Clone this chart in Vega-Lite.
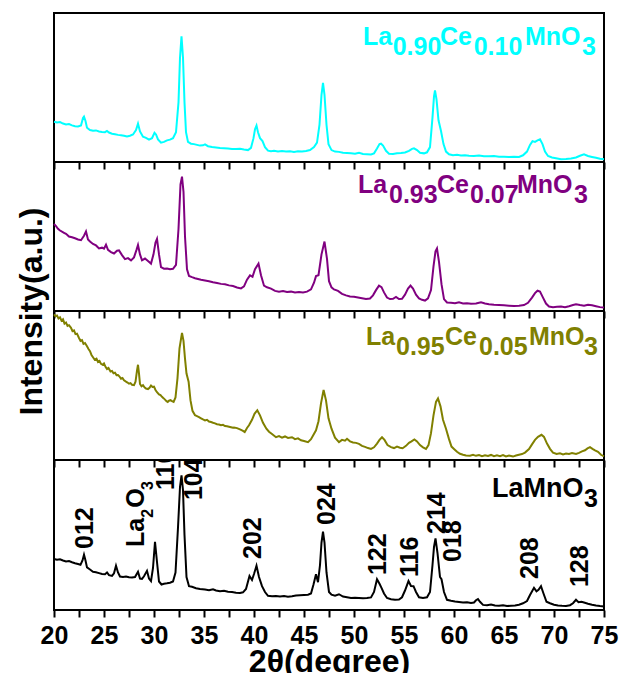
{
"$schema": "https://vega.github.io/schema/vega-lite/v6.json",
"background": "white",
"padding": {"left": 14, "top": 12, "right": 0, "bottom": 0},
"spacing": 0,
"bounds": "flush",
"config": {
  "font": "Liberation Sans",
  "view": {"stroke": "black", "strokeWidth": 2},
  "axis": {"tickColor": "black", "domainColor": "black", "labelColor": "black", "titleColor": "black", "grid": false, "labelFont": "Liberation Sans", "titleFont": "Liberation Sans"}
},
"datasets": {
"p1": [{"x":20.0,"y":27.0},{"x":20.3,"y":26.5},{"x":20.6,"y":26.8},{"x":20.9,"y":25.8},{"x":21.2,"y":25.2},{"x":21.5,"y":25.5},{"x":21.8,"y":24.6},{"x":22.1,"y":24.0},{"x":22.4,"y":23.8},{"x":22.7,"y":24.5},{"x":22.9,"y":29.5},{"x":23.0,"y":30.4},{"x":23.15,"y":27.5},{"x":23.3,"y":23.0},{"x":23.6,"y":21.5},{"x":23.9,"y":21.0},{"x":24.2,"y":21.2},{"x":24.5,"y":20.5},{"x":24.8,"y":20.2},{"x":25.1,"y":20.0},{"x":25.3,"y":20.8},{"x":25.5,"y":19.8},{"x":25.8,"y":19.0},{"x":26.1,"y":18.6},{"x":26.4,"y":18.2},{"x":26.7,"y":18.0},{"x":27.0,"y":17.6},{"x":27.3,"y":17.2},{"x":27.6,"y":17.6},{"x":27.9,"y":18.5},{"x":28.2,"y":21.5},{"x":28.4,"y":25.7},{"x":28.6,"y":20.5},{"x":28.9,"y":17.0},{"x":29.2,"y":16.2},{"x":29.5,"y":15.0},{"x":29.8,"y":16.0},{"x":30.05,"y":19.6},{"x":30.2,"y":18.5},{"x":30.4,"y":15.2},{"x":30.7,"y":13.0},{"x":31.0,"y":13.5},{"x":31.3,"y":14.5},{"x":31.6,"y":15.0},{"x":31.9,"y":16.0},{"x":32.2,"y":20.0},{"x":32.45,"y":40},{"x":32.6,"y":70},{"x":32.75,"y":84.4},{"x":32.9,"y":70},{"x":33.05,"y":40},{"x":33.2,"y":20},{"x":33.4,"y":13.5},{"x":33.7,"y":12.3},{"x":34.0,"y":12.0},{"x":34.3,"y":11.5},{"x":34.6,"y":11.0},{"x":34.9,"y":11.2},{"x":35.1,"y":11.8},{"x":35.4,"y":10.6},{"x":35.8,"y":10.0},{"x":36.2,"y":9.8},{"x":36.6,"y":9.4},{"x":37.0,"y":9.2},{"x":37.4,"y":9.0},{"x":37.8,"y":8.8},{"x":38.2,"y":8.8},{"x":38.6,"y":8.9},{"x":39.0,"y":8.4},{"x":39.4,"y":8.0},{"x":39.7,"y":9.5},{"x":39.95,"y":16},{"x":40.1,"y":22},{"x":40.25,"y":24.5},{"x":40.4,"y":20},{"x":40.6,"y":16},{"x":40.85,"y":14},{"x":41.1,"y":10},{"x":41.4,"y":7.6},{"x":41.7,"y":7.2},{"x":42.0,"y":7.5},{"x":42.4,"y":7.0},{"x":42.8,"y":7.3},{"x":43.2,"y":7.0},{"x":43.6,"y":7.2},{"x":44.0,"y":6.8},{"x":44.4,"y":7.2},{"x":44.8,"y":7.0},{"x":45.2,"y":7.4},{"x":45.6,"y":8.0},{"x":46.0,"y":10.0},{"x":46.3,"y":13.0},{"x":46.55,"y":25},{"x":46.75,"y":45},{"x":46.9,"y":53.1},{"x":47.05,"y":45},{"x":47.25,"y":25},{"x":47.45,"y":12},{"x":47.75,"y":8.0},{"x":48.1,"y":7.0},{"x":48.5,"y":6.8},{"x":48.9,"y":6.2},{"x":49.3,"y":6.0},{"x":49.7,"y":5.8},{"x":50.1,"y":5.6},{"x":50.5,"y":6.2},{"x":50.9,"y":5.4},{"x":51.3,"y":5.2},{"x":51.7,"y":5.0},{"x":52.0,"y":5.8},{"x":52.3,"y":9.0},{"x":52.55,"y":12.0},{"x":52.7,"y":12.3},{"x":52.9,"y":11.0},{"x":53.2,"y":7.5},{"x":53.5,"y":5.6},{"x":53.9,"y":5.4},{"x":54.3,"y":5.8},{"x":54.7,"y":6.0},{"x":55.1,"y":6.4},{"x":55.5,"y":7.5},{"x":55.8,"y":8.8},{"x":56.0,"y":9.2},{"x":56.3,"y":8.0},{"x":56.6,"y":6.2},{"x":57.0,"y":5.8},{"x":57.3,"y":6.5},{"x":57.6,"y":10},{"x":57.85,"y":30},{"x":58.0,"y":44},{"x":58.1,"y":48},{"x":58.25,"y":42},{"x":58.45,"y":28},{"x":58.7,"y":20.8},{"x":58.95,"y":12},{"x":59.2,"y":7},{"x":59.5,"y":5.2},{"x":59.9,"y":4.6},{"x":60.3,"y":4.8},{"x":60.7,"y":4.4},{"x":61.1,"y":4.5},{"x":61.5,"y":4.2},{"x":62.0,"y":4.0},{"x":62.5,"y":4.3},{"x":63.0,"y":3.9},{"x":63.5,"y":3.8},{"x":64.0,"y":4.0},{"x":64.5,"y":3.6},{"x":65.0,"y":3.5},{"x":65.5,"y":3.3},{"x":66.0,"y":3.6},{"x":66.5,"y":3.4},{"x":66.9,"y":4.5},{"x":67.3,"y":7.0},{"x":67.6,"y":11.5},{"x":67.85,"y":14},{"x":68.1,"y":13.5},{"x":68.35,"y":14.5},{"x":68.6,"y":15.2},{"x":68.85,"y":12},{"x":69.1,"y":7},{"x":69.4,"y":4.0},{"x":69.8,"y":3.0},{"x":70.2,"y":2.5},{"x":70.7,"y":1.8},{"x":71.2,"y":2.0},{"x":71.7,"y":2.4},{"x":72.2,"y":3.0},{"x":72.6,"y":4.2},{"x":73.0,"y":5.1},{"x":73.4,"y":4.0},{"x":73.8,"y":3.4},{"x":74.2,"y":2.8},{"x":74.6,"y":2.2},{"x":75.0,"y":1.8}],
"p2": [{"x":20.0,"y":58.4},{"x":20.2,"y":57.0},{"x":20.4,"y":55.2},{"x":20.6,"y":54.0},{"x":20.8,"y":53.2},{"x":21.0,"y":52.5},{"x":21.2,"y":51.8},{"x":21.5,"y":50.0},{"x":21.8,"y":49.5},{"x":22.1,"y":48.8},{"x":22.4,"y":48.0},{"x":22.7,"y":47.5},{"x":23.0,"y":50.5},{"x":23.2,"y":53.4},{"x":23.4,"y":48.0},{"x":23.6,"y":46.6},{"x":23.9,"y":45.0},{"x":24.2,"y":44.0},{"x":24.5,"y":42.0},{"x":24.8,"y":42.5},{"x":25.0,"y":41.8},{"x":25.2,"y":44.5},{"x":25.4,"y":41.0},{"x":25.7,"y":39.5},{"x":26.0,"y":38.6},{"x":26.3,"y":40.5},{"x":26.5,"y":40.7},{"x":26.8,"y":37.5},{"x":27.1,"y":34.8},{"x":27.4,"y":35.5},{"x":27.7,"y":34.0},{"x":28.0,"y":36.0},{"x":28.25,"y":41.0},{"x":28.4,"y":44.3},{"x":28.6,"y":38.0},{"x":28.8,"y":34.0},{"x":29.1,"y":35.2},{"x":29.4,"y":33.5},{"x":29.7,"y":31.8},{"x":29.95,"y":38},{"x":30.15,"y":46},{"x":30.3,"y":48.4},{"x":30.5,"y":38},{"x":30.7,"y":29.5},{"x":31.0,"y":28.4},{"x":31.3,"y":28.5},{"x":31.6,"y":28.0},{"x":31.9,"y":28.3},{"x":32.2,"y":31},{"x":32.45,"y":55},{"x":32.65,"y":85},{"x":32.8,"y":90.2},{"x":32.95,"y":80},{"x":33.1,"y":50},{"x":33.3,"y":28},{"x":33.5,"y":23.5},{"x":33.8,"y":22.7},{"x":34.1,"y":22.0},{"x":34.4,"y":21.5},{"x":34.7,"y":21.0},{"x":35.1,"y":20.5},{"x":35.5,"y":20.0},{"x":35.9,"y":19.3},{"x":36.3,"y":18.8},{"x":36.7,"y":18.2},{"x":37.1,"y":18.0},{"x":37.5,"y":17.2},{"x":37.9,"y":16.8},{"x":38.3,"y":15.8},{"x":38.7,"y":15.2},{"x":39.0,"y":16.5},{"x":39.3,"y":21},{"x":39.6,"y":23.9},{"x":39.85,"y":23},{"x":40.1,"y":28},{"x":40.45,"y":31.8},{"x":40.7,"y":24},{"x":41.0,"y":17},{"x":41.3,"y":15.9},{"x":41.7,"y":15.0},{"x":42.1,"y":13.5},{"x":42.5,"y":13.0},{"x":42.9,"y":13.4},{"x":43.3,"y":12.8},{"x":43.7,"y":13.0},{"x":44.1,"y":12.5},{"x":44.5,"y":12.8},{"x":44.9,"y":12.5},{"x":45.3,"y":13.0},{"x":45.7,"y":14.5},{"x":46.0,"y":19},{"x":46.2,"y":23.4},{"x":46.45,"y":24},{"x":46.75,"y":38},{"x":47.05,"y":46.6},{"x":47.3,"y":35},{"x":47.5,"y":20},{"x":47.75,"y":15.9},{"x":48.0,"y":14.5},{"x":48.4,"y":13.5},{"x":48.8,"y":11.5},{"x":49.2,"y":10.5},{"x":49.6,"y":9.8},{"x":50.0,"y":9.5},{"x":50.4,"y":9.0},{"x":50.8,"y":8.5},{"x":51.2,"y":8.0},{"x":51.6,"y":8.4},{"x":51.9,"y":10.5},{"x":52.2,"y":14},{"x":52.5,"y":17.0},{"x":52.75,"y":16},{"x":53.0,"y":12.5},{"x":53.3,"y":9},{"x":53.6,"y":8.0},{"x":53.9,"y":8.2},{"x":54.2,"y":9.5},{"x":54.5,"y":8.0},{"x":54.8,"y":8.2},{"x":55.1,"y":11},{"x":55.4,"y":15},{"x":55.65,"y":17.0},{"x":55.9,"y":15},{"x":56.2,"y":11},{"x":56.5,"y":8.5},{"x":56.8,"y":7.5},{"x":57.1,"y":7.0},{"x":57.4,"y":8.5},{"x":57.7,"y":14},{"x":57.95,"y":30},{"x":58.15,"y":40},{"x":58.3,"y":42},{"x":58.5,"y":33},{"x":58.75,"y":18},{"x":59.0,"y":8},{"x":59.3,"y":5.7},{"x":59.7,"y":5.5},{"x":60.1,"y":5.2},{"x":60.5,"y":5.8},{"x":60.9,"y":5.0},{"x":61.3,"y":5.2},{"x":61.7,"y":4.8},{"x":62.2,"y":5.0},{"x":62.7,"y":5.8},{"x":63.1,"y":5.0},{"x":63.5,"y":4.5},{"x":64.0,"y":4.2},{"x":64.5,"y":4.0},{"x":65.0,"y":3.8},{"x":65.5,"y":3.6},{"x":66.0,"y":3.4},{"x":66.5,"y":3.6},{"x":67.0,"y":4.0},{"x":67.4,"y":5.5},{"x":67.8,"y":9.0},{"x":68.1,"y":12},{"x":68.35,"y":13.6},{"x":68.6,"y":13.0},{"x":68.9,"y":9.0},{"x":69.2,"y":5.0},{"x":69.5,"y":3.0},{"x":69.9,"y":2.6},{"x":70.3,"y":2.8},{"x":70.7,"y":3.0},{"x":71.1,"y":2.6},{"x":71.5,"y":3.2},{"x":71.9,"y":4.0},{"x":72.2,"y":4.5},{"x":72.6,"y":4.0},{"x":73.0,"y":3.6},{"x":73.4,"y":4.2},{"x":73.8,"y":3.8},{"x":74.2,"y":3.2},{"x":74.6,"y":2.6},{"x":75.0,"y":2.3}],
"p3": [{"x":20.0,"y":97.7},{"x":20.15,"y":96.5},{"x":20.3,"y":97.0},{"x":20.45,"y":95.0},{"x":20.6,"y":95.8},{"x":20.75,"y":93.5},{"x":20.9,"y":94.4},{"x":21.05,"y":91.5},{"x":21.2,"y":92.3},{"x":21.35,"y":90.0},{"x":21.5,"y":90.5},{"x":21.7,"y":88.7},{"x":21.85,"y":86.5},{"x":22.0,"y":87.0},{"x":22.15,"y":84.5},{"x":22.3,"y":84.8},{"x":22.5,"y":81.9},{"x":22.65,"y":80.0},{"x":22.8,"y":80.5},{"x":22.95,"y":78.0},{"x":23.1,"y":78.5},{"x":23.3,"y":76.3},{"x":23.45,"y":74.5},{"x":23.6,"y":73.0},{"x":23.75,"y":70.5},{"x":23.9,"y":69.0},{"x":24.07,"y":67.3},{"x":24.25,"y":68.0},{"x":24.4,"y":65.8},{"x":24.55,"y":66.5},{"x":24.7,"y":64.5},{"x":24.86,"y":63.9},{"x":25.0,"y":64.8},{"x":25.15,"y":62.5},{"x":25.3,"y":61.0},{"x":25.45,"y":61.8},{"x":25.65,"y":59.4},{"x":25.8,"y":59.8},{"x":25.95,"y":58.2},{"x":26.1,"y":58.6},{"x":26.25,"y":57.0},{"x":26.4,"y":57.1},{"x":26.55,"y":56.0},{"x":26.7,"y":54.5},{"x":26.85,"y":55.0},{"x":27.0,"y":53.5},{"x":27.2,"y":52.6},{"x":27.35,"y":52.0},{"x":27.5,"y":51.2},{"x":27.65,"y":51.6},{"x":27.8,"y":50.5},{"x":28.0,"y":50.3},{"x":28.15,"y":52.5},{"x":28.3,"y":60},{"x":28.4,"y":63.9},{"x":28.5,"y":58},{"x":28.6,"y":51},{"x":28.75,"y":49.5},{"x":28.9,"y":50.2},{"x":29.05,"y":48.8},{"x":29.2,"y":48.0},{"x":29.4,"y":47.6},{"x":29.55,"y":48.5},{"x":29.7,"y":50.0},{"x":29.85,"y":49.0},{"x":30.0,"y":49.2},{"x":30.15,"y":47.0},{"x":30.3,"y":45.5},{"x":30.5,"y":44.0},{"x":30.65,"y":43.5},{"x":30.8,"y":42.4},{"x":30.95,"y":41.5},{"x":31.1,"y":40.5},{"x":31.25,"y":39.5},{"x":31.37,"y":39.0},{"x":31.5,"y":39.8},{"x":31.65,"y":40.2},{"x":31.8,"y":39.5},{"x":31.96,"y":39.0},{"x":32.15,"y":42},{"x":32.35,"y":55},{"x":32.55,"y":75},{"x":32.8,"y":85.3},{"x":32.95,"y":80},{"x":33.1,"y":68},{"x":33.25,"y":58},{"x":33.46,"y":52.6},{"x":33.65,"y":40},{"x":33.85,"y":33},{"x":34.1,"y":30},{"x":34.3,"y":29.5},{"x":34.5,"y":28.8},{"x":34.7,"y":28.0},{"x":34.9,"y":27.2},{"x":35.1,"y":26.6},{"x":35.3,"y":27.0},{"x":35.5,"y":25.8},{"x":35.7,"y":25.5},{"x":35.9,"y":25.0},{"x":36.1,"y":24.6},{"x":36.3,"y":24.0},{"x":36.5,"y":23.8},{"x":36.7,"y":23.3},{"x":36.9,"y":23.6},{"x":37.1,"y":22.8},{"x":37.3,"y":22.6},{"x":37.5,"y":22.3},{"x":37.7,"y":22.0},{"x":37.9,"y":21.6},{"x":38.0,"y":21.8},{"x":38.3,"y":21.4},{"x":38.6,"y":20.5},{"x":38.9,"y":19.5},{"x":39.07,"y":18.7},{"x":39.3,"y":21.5},{"x":39.5,"y":23.3},{"x":39.8,"y":27},{"x":40.05,"y":31},{"x":40.33,"y":33.4},{"x":40.6,"y":30},{"x":40.9,"y":25},{"x":41.24,"y":21},{"x":41.5,"y":19},{"x":41.8,"y":17.5},{"x":42.2,"y":15.3},{"x":42.5,"y":16.0},{"x":42.8,"y":15.0},{"x":43.1,"y":15.8},{"x":43.4,"y":14.8},{"x":43.8,"y":15.3},{"x":44.1,"y":14.0},{"x":44.4,"y":14.5},{"x":44.7,"y":13.2},{"x":45.0,"y":12.8},{"x":45.4,"y":12.0},{"x":45.7,"y":14.0},{"x":45.95,"y":17},{"x":46.2,"y":19.9},{"x":46.45,"y":26},{"x":46.7,"y":38},{"x":46.96,"y":47},{"x":47.2,"y":40},{"x":47.45,"y":28},{"x":47.75,"y":21},{"x":48.1,"y":15},{"x":48.5,"y":12},{"x":48.8,"y":13.5},{"x":49.1,"y":13.0},{"x":49.3,"y":14.2},{"x":49.6,"y":12.5},{"x":49.9,"y":11.8},{"x":50.2,"y":11.5},{"x":50.5,"y":10.8},{"x":50.8,"y":9.5},{"x":51.1,"y":8.8},{"x":51.4,"y":8.0},{"x":51.7,"y":7.4},{"x":52.0,"y":8.5},{"x":52.3,"y":11},{"x":52.55,"y":13.5},{"x":52.8,"y":15.3},{"x":53.05,"y":13.5},{"x":53.35,"y":10},{"x":53.7,"y":8.6},{"x":54.0,"y":8.0},{"x":54.3,"y":9.0},{"x":54.6,"y":8.2},{"x":54.86,"y":7.9},{"x":55.2,"y":9.5},{"x":55.5,"y":11.5},{"x":55.75,"y":12.5},{"x":56.04,"y":13.8},{"x":56.3,"y":12.5},{"x":56.6,"y":10},{"x":56.9,"y":8.5},{"x":57.2,"y":7.4},{"x":57.45,"y":10},{"x":57.7,"y":18},{"x":57.95,"y":30},{"x":58.2,"y":39},{"x":58.4,"y":41.3},{"x":58.65,"y":36},{"x":58.9,"y":27},{"x":59.2,"y":21},{"x":59.5,"y":14},{"x":59.75,"y":9},{"x":60.0,"y":7.4},{"x":60.3,"y":5.5},{"x":60.6,"y":4.2},{"x":60.9,"y":3.5},{"x":61.2,"y":3.0},{"x":61.6,"y":2.9},{"x":61.9,"y":3.5},{"x":62.2,"y":2.8},{"x":62.5,"y":3.3},{"x":62.8,"y":2.6},{"x":63.1,"y":3.2},{"x":63.4,"y":2.7},{"x":63.7,"y":3.4},{"x":64.0,"y":2.5},{"x":64.3,"y":3.1},{"x":64.6,"y":2.6},{"x":64.9,"y":3.3},{"x":65.2,"y":2.4},{"x":65.5,"y":3.0},{"x":65.9,"y":2.3},{"x":66.2,"y":3.0},{"x":66.5,"y":3.5},{"x":66.8,"y":4.0},{"x":67.1,"y":5.0},{"x":67.5,"y":7.4},{"x":67.8,"y":10.5},{"x":68.1,"y":13.5},{"x":68.4,"y":15.5},{"x":68.75,"y":16.9},{"x":69.0,"y":15.5},{"x":69.3,"y":11},{"x":69.6,"y":7.5},{"x":69.9,"y":5.0},{"x":70.26,"y":4.0},{"x":70.6,"y":4.5},{"x":70.9,"y":3.8},{"x":71.2,"y":4.4},{"x":71.5,"y":4.0},{"x":71.8,"y":4.6},{"x":72.2,"y":4.0},{"x":72.5,"y":4.8},{"x":72.8,"y":5.8},{"x":73.1,"y":6.5},{"x":73.35,"y":7.8},{"x":73.6,"y":8.6},{"x":73.85,"y":7.5},{"x":74.1,"y":6.5},{"x":74.4,"y":5.5},{"x":74.7,"y":3.5},{"x":75.0,"y":2.5}],
"p4": [{"x":20.0,"y":34.0},{"x":20.3,"y":33.5},{"x":20.6,"y":33.8},{"x":20.9,"y":33.0},{"x":21.2,"y":32.3},{"x":21.5,"y":32.6},{"x":21.8,"y":31.8},{"x":22.1,"y":31.2},{"x":22.4,"y":30.7},{"x":22.65,"y":30.2},{"x":22.85,"y":33},{"x":23.0,"y":36.8},{"x":23.15,"y":33},{"x":23.3,"y":28.4},{"x":23.6,"y":27.0},{"x":23.9,"y":25.5},{"x":24.2,"y":25.2},{"x":24.5,"y":24.6},{"x":24.8,"y":24.0},{"x":25.1,"y":23.9},{"x":25.3,"y":25.0},{"x":25.5,"y":23.2},{"x":25.8,"y":22.7},{"x":26.0,"y":24.5},{"x":26.2,"y":29.5},{"x":26.4,"y":25},{"x":26.6,"y":22.3},{"x":26.9,"y":22.0},{"x":27.2,"y":22.3},{"x":27.5,"y":21.8},{"x":27.8,"y":21.6},{"x":28.1,"y":22.0},{"x":28.4,"y":25.5},{"x":28.6,"y":21.0},{"x":28.8,"y":20.8},{"x":29.0,"y":22.5},{"x":29.3,"y":26.1},{"x":29.5,"y":21.0},{"x":29.7,"y":19.3},{"x":29.9,"y":28},{"x":30.1,"y":45.5},{"x":30.3,"y":32},{"x":30.5,"y":19},{"x":30.75,"y":17.0},{"x":31.0,"y":17.5},{"x":31.3,"y":17.8},{"x":31.6,"y":18.2},{"x":31.9,"y":19.0},{"x":32.15,"y":25},{"x":32.4,"y":55},{"x":32.6,"y":82},{"x":32.75,"y":89.8},{"x":32.9,"y":80},{"x":33.05,"y":50},{"x":33.25,"y":22},{"x":33.5,"y":15.9},{"x":33.8,"y":15.5},{"x":34.2,"y":14.5},{"x":34.6,"y":14.0},{"x":35.1,"y":13.6},{"x":35.5,"y":13.2},{"x":35.9,"y":13.8},{"x":36.2,"y":13.0},{"x":36.6,"y":12.5},{"x":37.0,"y":12.8},{"x":37.4,"y":12.2},{"x":37.8,"y":12.0},{"x":38.2,"y":11.5},{"x":38.6,"y":11.4},{"x":38.9,"y":11.8},{"x":39.2,"y":14},{"x":39.55,"y":22.7},{"x":39.8,"y":20},{"x":40.0,"y":24},{"x":40.25,"y":29.5},{"x":40.5,"y":22},{"x":40.8,"y":15.9},{"x":41.1,"y":12},{"x":41.4,"y":9.5},{"x":41.8,"y":9.1},{"x":42.2,"y":9.4},{"x":42.6,"y":9.0},{"x":43.0,"y":9.3},{"x":43.4,"y":8.9},{"x":43.8,"y":9.2},{"x":44.2,"y":9.6},{"x":44.6,"y":9.8},{"x":45.0,"y":10.0},{"x":45.4,"y":10.2},{"x":45.7,"y":11.0},{"x":45.95,"y":17},{"x":46.2,"y":23.9},{"x":46.4,"y":18.5},{"x":46.6,"y":30},{"x":46.75,"y":45},{"x":46.9,"y":52.3},{"x":47.05,"y":45},{"x":47.25,"y":25},{"x":47.5,"y":12},{"x":47.75,"y":10.2},{"x":48.1,"y":9.5},{"x":48.5,"y":10.5},{"x":48.9,"y":9.0},{"x":49.3,"y":8.5},{"x":49.7,"y":8.0},{"x":50.1,"y":8.2},{"x":50.5,"y":8.0},{"x":50.9,"y":7.8},{"x":51.3,"y":8.0},{"x":51.7,"y":8.4},{"x":52.0,"y":12},{"x":52.3,"y":20.5},{"x":52.55,"y":17.5},{"x":52.75,"y":14.8},{"x":53.0,"y":11},{"x":53.3,"y":8.0},{"x":53.7,"y":7.2},{"x":54.1,"y":6.8},{"x":54.5,"y":7.0},{"x":54.8,"y":8.5},{"x":55.1,"y":13},{"x":55.45,"y":19.3},{"x":55.7,"y":16},{"x":55.95,"y":15.9},{"x":56.2,"y":12},{"x":56.5,"y":8.5},{"x":56.9,"y":8.0},{"x":57.3,"y":8.5},{"x":57.6,"y":12},{"x":57.85,"y":30},{"x":58.0,"y":42},{"x":58.15,"y":47.7},{"x":58.35,"y":38},{"x":58.6,"y":22},{"x":58.75,"y":20.5},{"x":59.0,"y":12},{"x":59.3,"y":6.8},{"x":59.7,"y":6.2},{"x":60.1,"y":5.7},{"x":60.5,"y":5.4},{"x":60.9,"y":5.0},{"x":61.3,"y":5.2},{"x":61.7,"y":4.6},{"x":62.0,"y":5.0},{"x":62.2,"y":6.5},{"x":62.4,"y":7.3},{"x":62.6,"y":5.5},{"x":62.9,"y":3.4},{"x":63.3,"y":3.2},{"x":63.7,"y":3.6},{"x":64.1,"y":3.0},{"x":64.5,"y":2.8},{"x":64.9,"y":3.2},{"x":65.3,"y":2.6},{"x":65.7,"y":2.8},{"x":66.1,"y":3.0},{"x":66.5,"y":3.5},{"x":66.9,"y":4.5},{"x":67.3,"y":6.0},{"x":67.6,"y":10},{"x":68.0,"y":14.8},{"x":68.25,"y":12.5},{"x":68.45,"y":13.5},{"x":68.7,"y":15.9},{"x":68.95,"y":11},{"x":69.25,"y":5.5},{"x":69.6,"y":4.5},{"x":70.0,"y":3.5},{"x":70.4,"y":3.0},{"x":70.8,"y":2.8},{"x":71.2,"y":2.7},{"x":71.6,"y":3.2},{"x":71.9,"y":4.5},{"x":72.2,"y":6.8},{"x":72.45,"y":5.2},{"x":72.75,"y":5.5},{"x":73.0,"y":5.0},{"x":73.4,"y":4.2},{"x":73.8,"y":3.5},{"x":74.2,"y":3.0},{"x":74.6,"y":2.6},{"x":75.0,"y":2.3}],
"l1": [{"x":50.9,"y":78.8,"t":"La"},{"x":53.87,"y":72.1,"t":"0.90"},{"x":58.6,"y":78.8,"t":"Ce"},{"x":61.97,"y":72.1,"t":"0.10"},{"x":67.1,"y":78.8,"t":"MnO"},{"x":72.8,"y":72.1,"t":"3"}],
"l2": [{"x":50.4,"y":79.5,"t":"La"},{"x":53.5,"y":72.7,"t":"0.93"},{"x":58.3,"y":79.5,"t":"Ce"},{"x":61.6,"y":72.7,"t":"0.07"},{"x":66.3,"y":79.5,"t":"MnO"},{"x":72.0,"y":72.7,"t":"3"}],
"l3": [{"x":51.2,"y":77.4,"t":"La"},{"x":54.2,"y":70.7,"t":"0.95"},{"x":59.1,"y":77.4,"t":"Ce"},{"x":62.5,"y":70.7,"t":"0.05"},{"x":67.5,"y":77.4,"t":"MnO"},{"x":73.0,"y":70.7,"t":"3"}],
"l4": [{"x":63.8,"y":75.3,"t":"LaMnO"}],
"l4sub": [{"x":73.0,"y":68.7,"t":"3"}],
"hkl": [{"x":23.1,"y":40.7,"t":"012"},{"x":28.15,"y":42,"t":"La"},{"x":28.15,"y":68.2,"t":"O"},{"x":31.2,"y":80,"t":"110"},{"x":34.0,"y":73.3,"t":"104"},{"x":39.9,"y":34,"t":"202"},{"x":47.27,"y":56.7,"t":"024"},{"x":52.4,"y":23.3,"t":"122"},{"x":55.6,"y":22,"t":"116"},{"x":58.27,"y":50.7,"t":"214"},{"x":59.9,"y":32,"t":"018"},{"x":67.6,"y":20.7,"t":"208"},{"x":72.6,"y":15.3,"t":"128"}],
"hklsub": [{"x":29.4,"y":61.5,"t":"2"},{"x":29.4,"y":80,"t":"3"}]
},
"vconcat": [
{
  "width": 550, "height": 149,
  "encoding": {
    "x": {"field": "x", "type": "quantitative", "scale": {"domain": [20, 75], "nice": false, "zero": false},
          "axis": {"values": [20,22.5,25,27.5,30,32.5,35,37.5,40,42.5,45,47.5,50,52.5,55,57.5,60,62.5,65,67.5,70,72.5,75], "labels": false, "title": null, "domain": false, "tickSize": 7, "tickWidth": 2}},
    "y": {"field": "y", "type": "quantitative", "scale": {"domain": [0, 100], "nice": false, "zero": false}, "axis": null}
  },
  "layer": [
    {"data": {"name": "p1"}, "mark": {"type": "line", "color": "#00FFFF", "strokeWidth": 2}},
    {"data": {"name": "l1"}, "mark": {"type": "text", "align": "left", "baseline": "alphabetic", "fontSize": 25, "fontWeight": "bold", "color": "#00FFFF"}, "encoding": {"text": {"field": "t"}}}
  ]
},
{
  "width": 550, "height": 149,
  "encoding": {
    "x": {"field": "x", "type": "quantitative", "scale": {"domain": [20, 75], "nice": false, "zero": false},
          "axis": {"values": [20,22.5,25,27.5,30,32.5,35,37.5,40,42.5,45,47.5,50,52.5,55,57.5,60,62.5,65,67.5,70,72.5,75], "labels": false, "title": null, "domain": false, "tickSize": 7, "tickWidth": 2}},
    "y": {"field": "y", "type": "quantitative", "scale": {"domain": [0, 100], "nice": false, "zero": false},
          "axis": {"title": "Intensity(a.u.)", "labels": false, "ticks": false, "domain": false, "titleFontSize": 32, "titleFontWeight": "bold", "titleY": 149, "titlePadding": 6}}
  },
  "layer": [
    {"data": {"name": "p2"}, "mark": {"type": "line", "color": "#800080", "strokeWidth": 2}},
    {"data": {"name": "l2"}, "mark": {"type": "text", "align": "left", "baseline": "alphabetic", "fontSize": 25, "fontWeight": "bold", "color": "#800080"}, "encoding": {"text": {"field": "t"}}}
  ]
},
{
  "width": 550, "height": 149,
  "encoding": {
    "x": {"field": "x", "type": "quantitative", "scale": {"domain": [20, 75], "nice": false, "zero": false},
          "axis": {"values": [20,22.5,25,27.5,30,32.5,35,37.5,40,42.5,45,47.5,50,52.5,55,57.5,60,62.5,65,67.5,70,72.5,75], "labels": false, "title": null, "domain": false, "tickSize": 7, "tickWidth": 2}},
    "y": {"field": "y", "type": "quantitative", "scale": {"domain": [0, 100], "nice": false, "zero": false}, "axis": null}
  },
  "layer": [
    {"data": {"name": "p3"}, "mark": {"type": "line", "color": "#808000", "strokeWidth": 2}},
    {"data": {"name": "l3"}, "mark": {"type": "text", "align": "left", "baseline": "alphabetic", "fontSize": 25, "fontWeight": "bold", "color": "#808000"}, "encoding": {"text": {"field": "t"}}}
  ]
},
{
  "width": 550, "height": 150,
  "encoding": {
    "x": {"field": "x", "type": "quantitative", "scale": {"domain": [20, 75], "nice": false, "zero": false},
          "axis": {"values": [20,22.5,25,27.5,30,32.5,35,37.5,40,42.5,45,47.5,50,52.5,55,57.5,60,62.5,65,67.5,70,72.5,75], "labelExpr": "datum.value % 5 === 0 ? datum.value : ''", "labelOverlap": false, "labelFlush": false, "labelFontSize": 25, "labelFontWeight": "bold", "labelPadding": 6, "title": "2θ(degree)", "titleFontSize": 32, "titleFontWeight": "bold", "titlePadding": -2, "domain": false, "tickSize": 7, "tickWidth": 2}},
    "y": {"field": "y", "type": "quantitative", "scale": {"domain": [0, 100], "nice": false, "zero": false}, "axis": null}
  },
  "layer": [
    {"data": {"name": "p4"}, "mark": {"type": "line", "color": "black", "strokeWidth": 2}},
    {"data": {"name": "l4"}, "mark": {"type": "text", "align": "left", "baseline": "alphabetic", "fontSize": 27, "fontWeight": "bold", "color": "black"}, "encoding": {"text": {"field": "t"}}},
    {"data": {"name": "l4sub"}, "mark": {"type": "text", "align": "left", "baseline": "alphabetic", "fontSize": 25, "fontWeight": "bold", "color": "black"}, "encoding": {"text": {"field": "t"}}},
    {"data": {"name": "hkl"}, "mark": {"type": "text", "angle": 270, "align": "left", "baseline": "middle", "fontSize": 25, "fontWeight": "bold", "color": "black", "clip": true}, "encoding": {"text": {"field": "t"}}},
    {"data": {"name": "hklsub"}, "mark": {"type": "text", "angle": 270, "align": "left", "baseline": "middle", "fontSize": 16, "fontWeight": "bold", "color": "black", "clip": true}, "encoding": {"text": {"field": "t"}}}
  ]
}
]
}
